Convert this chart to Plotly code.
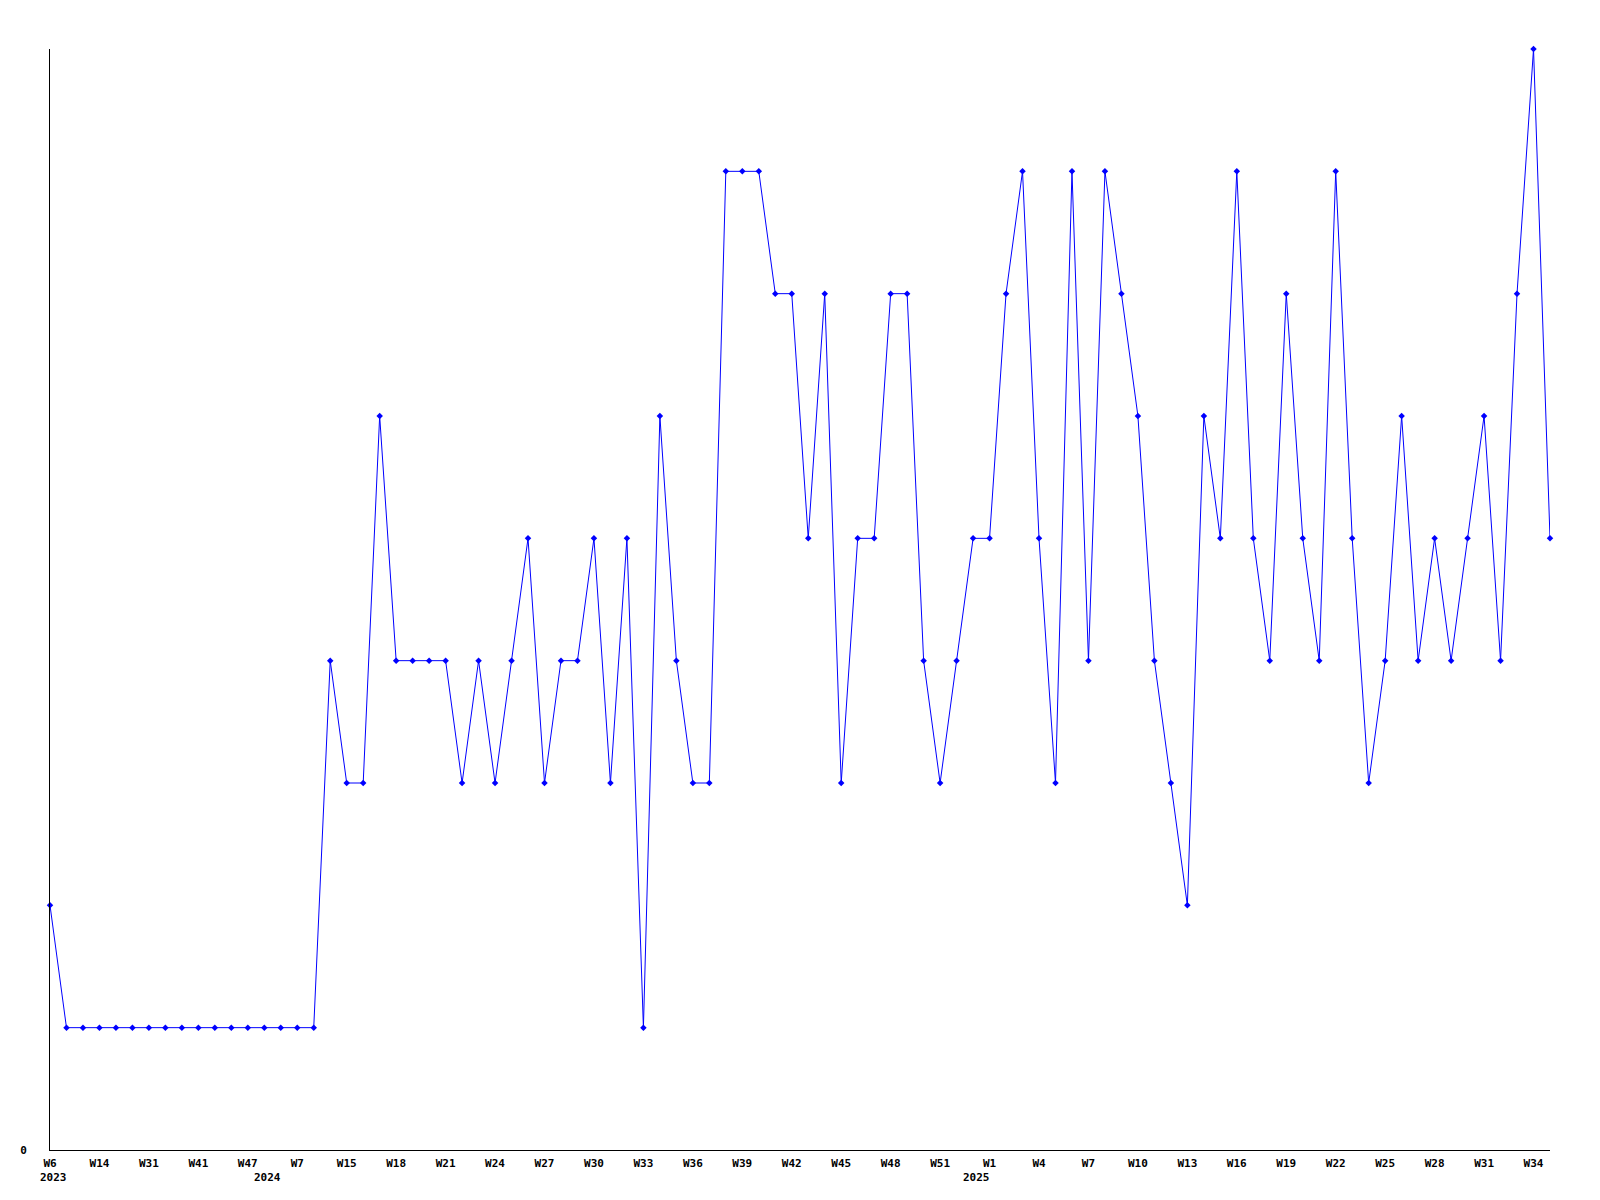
import plotly.graph_objects as go

# Week labels per point (year, week)
years = [2023] * 15 + [2024] * 42 + [2025] * 35
weeks = ([6, 9, 11, 14, 19, 25, 31, 35, 38, 41, 43, 45, 47, 49, 51]
         + [7, 10, 13] + list(range(15, 54))
         + list(range(1, 36)))

values = [2,
          1, 1, 1, 1, 1, 1, 1, 1, 1, 1, 1, 1, 1, 1, 1, 1,
          4, 3, 3, 6, 4, 4, 4, 4, 3, 4, 3, 4, 5, 3, 4, 4, 5, 3, 5, 1,
          6, 4, 3, 3, 8, 8, 8, 7, 7, 5, 7, 3, 5, 5, 7, 7, 4, 3, 4, 5,
          5, 7, 8, 5, 3, 8, 4, 8, 7, 6, 4, 3, 2, 6, 5, 8, 5, 4, 7, 5,
          4, 8, 5, 3, 4, 6, 4, 5, 4, 5, 6, 4, 7, 9, 5]

labels = [f"{y}-W{w:02d}" for y, w in zip(years, weeks)]

# year label offsets (px) relative to the first tick of that year
year_shift = {2023: 3, 2024: -30, 2025: -13}

tickvals, ticktext = [], []
year_anns = []
seen = set()
for i in range(0, len(labels), 3):
    tickvals.append(labels[i])
    ticktext.append(f"<b>W{weeks[i]}</b>")
    if years[i] not in seen:
        seen.add(years[i])
        year_anns.append((labels[i], years[i]))

font = dict(family="DejaVu Sans Mono", size=11, color="black")

fig = go.Figure()
fig.add_trace(go.Scatter(
    x=labels, y=values, mode="lines+markers",
    line=dict(color="#0000ff", width=1),
    marker=dict(symbol="diamond", size=5, color="#0000ff"),
    cliponaxis=False,
))

for lab, yr in year_anns:
    fig.add_annotation(x=lab, xref="x", y=0, yref="paper",
                       text=f"<b>{yr}</b>", showarrow=False,
                       xanchor="center", yanchor="middle",
                       xshift=year_shift[yr], yshift=-27, font=font)

fig.update_layout(
    width=1600, height=1200,
    margin=dict(l=42, r=58, t=41, b=58),
    paper_bgcolor="white", plot_bgcolor="white",
    showlegend=False,
    font=font,
    xaxis=dict(type="category", categoryorder="array", categoryarray=labels,
               range=[0, len(labels) - 1],
               tickmode="array", tickvals=tickvals, ticktext=ticktext,
               showgrid=False, zeroline=False, showline=True,
               linecolor="black", linewidth=1, ticks="", tickfont=font,
               tickangle=0, ticklabelstandoff=3),
    yaxis=dict(range=[0, 9], tickmode="array", tickvals=[0], ticktext=["<b>0</b>"],
               showgrid=False, zeroline=False, showline=True,
               linecolor="black", linewidth=1, ticks="", tickfont=font,
               ticklabelstandoff=20),
)

fig.write_html("out.html")
